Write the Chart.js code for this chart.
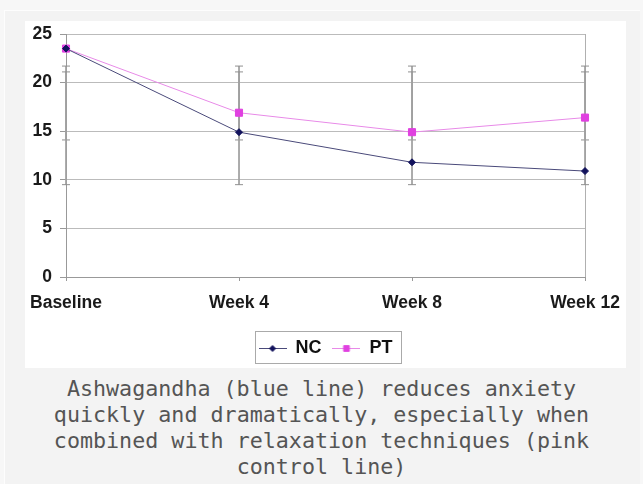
<!DOCTYPE html>
<html>
<head>
<meta charset="utf-8">
<script src="https://cdn.jsdelivr.net/npm/chart.js@4.4.0/dist/chart.umd.min.js"></script>
<style>
  body { margin: 0; background: #f7f7f7; width: 643px; height: 484px; overflow: hidden; position: relative; }
  #fig { position: absolute; left: 4px; top: 10px; width: 635px; height: 474px; background: #f3f3f3;
         border-left: 1px solid #fdfdfd; border-top: 1px solid #fdfdfd; }
  #paper { position: absolute; left: 25px; top: 21px; width: 601px; height: 347px; background: #fff; }
  #chart { position: absolute; left: 25px; top: 21px; }
  #caption { position: absolute; left: 4px; width: 635px; top: 376px; text-align: center;
             font: 21.7px/26px "DejaVu Sans Mono", monospace; color: #555; }
</style>
</head>
<body>
<div id="fig"></div>
<div id="paper"></div>
<canvas id="chart" width="601" height="347"></canvas>
<div id="caption">Ashwagandha (blue line) reduces anxiety<br>quickly and dramatically, especially when<br>combined with relaxation techniques (pink<br>control line)</div>
<script>
const labels = ['Baseline', 'Week 4', 'Week 8', 'Week 12'];
const ncValues = [23.5, 14.9, 11.8, 10.9];
const ptValues = [23.5, 16.9, 14.9, 16.4];
// error bar ends (same caps at every time point in the picture)
const ncErrHigh = [21.1, 21.1, 21.1, 21.1];
const ncErrLow = [9.5, 9.5, 9.5, 9.5];
const ptErrHigh = [21.7, 21.7, 21.7, 21.7];
const ptErrLow = [14.1, 14.1, 14.1, 14.1];
const yTicks = [0, 5, 10, 15, 20, 25];

const ncLine = '#4a4a7a', ncDot = '#12125c';
const ptLine = '#e88ae8', ptDot = '#e040e0';

Chart.defaults.font.family = '"Liberation Sans", Arial, sans-serif';

function errorPoints(high, low) {
  // high cap, low cap, then a gap so each bar is its own segment
  return labels.flatMap((c, i) => [{x: c, y: high[i]}, {x: c, y: low[i]}, {x: c, y: null}]);
}

function legendIcon(lineColor, dotColor, style, radius) {
  const c = document.createElement('canvas');
  c.width = 28;
  c.height = 12;
  const g = c.getContext('2d');
  g.strokeStyle = lineColor;
  g.lineWidth = 1;
  g.beginPath();
  g.moveTo(0, 6.5);
  g.lineTo(28, 6.5);
  g.stroke();
  g.fillStyle = dotColor;
  g.strokeStyle = dotColor;
  Chart.helpers.drawPoint(g, {pointStyle: style, radius: radius, borderWidth: 1}, 14, 6.5);
  return c;
}
const icons = [legendIcon(ncLine, ncDot, 'rectRot', 3), legendIcon(ptLine, ptDot, 'rect', 4)];

const errStyle = {
  borderColor: '#a0a0a0',
  borderWidth: 1,
  pointStyle: 'line',
  pointRadius: 4,
  pointHoverRadius: 4,
  pointBorderColor: '#909090',
  pointBorderWidth: 1,
  fill: false,
};

const legendBox = {
  id: 'legendBox',
  afterDraw(chart) {
    const boxes = chart.legend.legendHitBoxes;
    if (!boxes || !boxes.length) return;
    const left = Math.min(...boxes.map(b => b.left)) - 4;
    const right = Math.max(...boxes.map(b => b.left + b.width)) + 8;
    const top = boxes[0].top - 8;
    const bottom = boxes[0].top + boxes[0].height + 6;
    const ctx = chart.ctx;
    ctx.save();
    ctx.strokeStyle = '#aaaaaa';
    ctx.lineWidth = 1;
    ctx.strokeRect(Math.round(left) + 0.5, Math.round(top) + 0.5, Math.round(right - left), Math.round(bottom - top));
    ctx.restore();
  }
};

new Chart(document.getElementById('chart'), {
  type: 'line',
  data: {
    labels: labels,
    datasets: [
      {label: 'NC', data: ncValues, borderColor: ncLine, borderWidth: 1, pointStyle: 'rectRot',
       pointRadius: 3.5, pointBackgroundColor: ncDot, pointBorderColor: ncDot, tension: 0},
      {label: 'PT', data: ptValues, borderColor: ptLine, borderWidth: 1, pointStyle: 'rect',
       pointRadius: 5, pointBackgroundColor: ptDot, pointBorderColor: ptDot, tension: 0},
      Object.assign({label: 'NC err', data: errorPoints(ncErrHigh, ncErrLow)}, errStyle),
      Object.assign({label: 'PT err', data: errorPoints(ptErrHigh, ptErrLow)}, errStyle),
    ]
  },
  options: {
    responsive: false,
    animation: false,
    layout: {padding: {top: 13, right: 41, left: 0, bottom: 1}},
    scales: {
      x: {
        offset: false,
        afterFit: s => { s.height = 51; s.paddingLeft = 0; s.paddingRight = 0; },
        grid: {
          drawOnChartArea: true,
          color: c => (c.index === labels.length - 1 ? '#b0b0b0' : 'rgba(0,0,0,0)'),
          tickColor: '#999',
          tickLength: 4,
        },
        border: {color: '#999'},
        ticks: {color: '#1a1a1a', padding: 12, font: {size: 17.5, weight: 'bold'}, maxRotation: 0},
      },
      y: {
        min: 0,
        max: 25,
        afterFit: s => { s.width = 41; s.paddingTop = 0; s.paddingBottom = 0; },
        afterBuildTicks: s => { s.ticks = yTicks.map(v => ({value: v})); },
        grid: {color: '#bbbbbb', tickColor: '#999', tickLength: 6},
        border: {color: '#999'},
        ticks: {color: '#1a1a1a', padding: 8, font: {size: 17.5, weight: 'bold'}},
      }
    },
    plugins: {
      tooltip: {enabled: false},
      legend: {
        position: 'bottom',
        fullSize: false,
        labels: {
          usePointStyle: true,
          pointStyleWidth: 28,
          padding: 11,
          color: '#111',
          font: {size: 18, weight: 'bold'},
          generateLabels: chart =>
            Chart.defaults.plugins.legend.labels.generateLabels(chart)
              .filter(item => item.datasetIndex < 2)
              .map(item => Object.assign(item, {pointStyle: icons[item.datasetIndex]})),
        }
      }
    }
  },
  plugins: [legendBox]
});
</script>
</body>
</html>
